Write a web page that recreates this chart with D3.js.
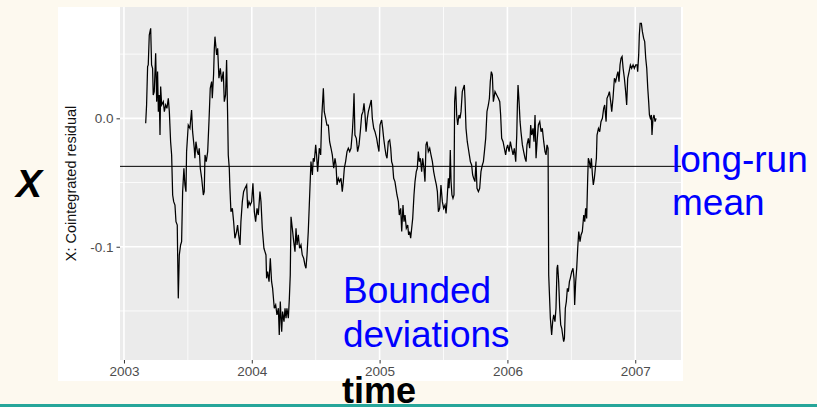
<!DOCTYPE html>
<html>
<head>
<meta charset="utf-8">
<script src="https://cdn.jsdelivr.net/npm/d3@7"></script>
<style>
  body { margin: 0; background: #fdf9ef; }
  svg { display: block; font-family: "Liberation Sans", Arial, sans-serif; }
</style>
</head>
<body>
<div class="chart"></div>
<script>
// cointegrated residual, [decimal year, value]
const residual = [
  [2003.170,-0.0039],[2003.177,0.0104],[2003.185,0.0403],[2003.190,0.0416],[2003.198,0.0649],[2003.209,0.0701],
  [2003.216,0.0416],[2003.224,0.0390],[2003.229,0.0182],[2003.237,0.0208],[2003.248,0.0506],[2003.256,0.0130],
  [2003.263,0.0364],[2003.269,0.0052],[2003.276,0.0182],[2003.282,-0.0130],[2003.287,0.0247],[2003.295,0.0104],
  [2003.308,0.0130],[2003.316,0.0052],[2003.326,0.0104],[2003.336,0.0078],[2003.347,0.0156],[2003.355,0.0052],
  [2003.365,-0.0182],[2003.373,-0.0285],[2003.381,-0.0597],[2003.389,-0.0649],[2003.399,-0.0675],[2003.407,-0.0805],
  [2003.417,-0.0831],[2003.420,-0.1064],[2003.425,-0.1402],[2003.433,-0.1064],[2003.443,-0.0986],[2003.451,-0.0960],
  [2003.459,-0.0571],[2003.469,-0.0389],[2003.477,-0.0519],[2003.485,-0.0571],[2003.490,-0.0259],[2003.503,-0.0052],
  [2003.516,-0.0078],[2003.529,0.0065],[2003.537,-0.0104],[2003.550,-0.0233],[2003.555,-0.0311],[2003.563,-0.0182],
  [2003.574,-0.0259],[2003.582,-0.0285],[2003.589,-0.0233],[2003.597,-0.0389],[2003.608,-0.0467],[2003.621,-0.0597],
  [2003.628,-0.0571],[2003.634,-0.0285],[2003.644,-0.0337],[2003.655,-0.0259],[2003.665,-0.0026],[2003.675,0.0234],
  [2003.686,0.0286],[2003.691,0.0156],[2003.701,0.0338],[2003.707,0.0545],[2003.712,0.0636],[2003.725,0.0493],
  [2003.733,0.0545],[2003.743,0.0312],[2003.754,0.0390],[2003.764,0.0286],[2003.777,0.0364],[2003.785,0.0130],
  [2003.795,0.0182],[2003.803,0.0455],[2003.811,0.0026],[2003.816,-0.0285],[2003.824,-0.0389],[2003.829,-0.0545],
  [2003.837,-0.0727],[2003.848,-0.0701],[2003.858,-0.0805],[2003.868,-0.0934],[2003.881,-0.0882],[2003.889,-0.0831],
  [2003.897,-0.0908],[2003.908,-0.0986],[2003.915,-0.0805],[2003.926,-0.0649],[2003.936,-0.0571],[2003.947,-0.0545],
  [2003.960,-0.0519],[2003.968,-0.0701],[2003.978,-0.0649],[2003.988,-0.0675],[2003.999,-0.0649],[2004.009,-0.0506],
  [2004.020,-0.0727],[2004.030,-0.0805],[2004.041,-0.0701],[2004.051,-0.0753],[2004.064,-0.0571],[2004.072,-0.0649],
  [2004.082,-0.0856],[2004.095,-0.1012],[2004.103,-0.1038],[2004.111,-0.1064],[2004.116,-0.1246],[2004.124,-0.1194],
  [2004.135,-0.1272],[2004.145,-0.1090],[2004.155,-0.1272],[2004.163,-0.1324],[2004.176,-0.1479],[2004.187,-0.1453],
  [2004.197,-0.1531],[2004.208,-0.1479],[2004.215,-0.1687],[2004.223,-0.1427],[2004.234,-0.1661],[2004.241,-0.1505],
  [2004.252,-0.1583],[2004.260,-0.1479],[2004.268,-0.1557],[2004.275,-0.1479],[2004.286,-0.1557],[2004.294,-0.1402],
  [2004.301,-0.1220],[2004.307,-0.0766],[2004.317,-0.0856],[2004.328,-0.0960],[2004.338,-0.1038],[2004.346,-0.0856],
  [2004.354,-0.0986],[2004.364,-0.0908],[2004.374,-0.1012],[2004.385,-0.0986],[2004.395,-0.1064],[2004.406,-0.1090],
  [2004.416,-0.1142],[2004.424,-0.1168],[2004.432,-0.1064],[2004.442,-0.0882],[2004.450,-0.0675],[2004.458,-0.0467],
  [2004.463,-0.0337],[2004.474,-0.0441],[2004.481,-0.0311],[2004.489,-0.0337],[2004.500,-0.0207],[2004.507,-0.0285],
  [2004.515,-0.0415],[2004.521,-0.0337],[2004.528,-0.0233],[2004.539,-0.0285],[2004.547,0.0000],[2004.560,0.0234],
  [2004.567,0.0052],[2004.578,0.0000],[2004.588,-0.0052],[2004.599,-0.0052],[2004.609,-0.0182],[2004.620,-0.0233],
  [2004.630,-0.0285],[2004.641,-0.0389],[2004.651,-0.0311],[2004.659,-0.0363],[2004.667,-0.0519],[2004.677,-0.0467],
  [2004.687,-0.0493],[2004.698,-0.0467],[2004.708,-0.0571],[2004.716,-0.0493],[2004.724,-0.0389],[2004.734,-0.0337],
  [2004.745,-0.0259],[2004.755,-0.0233],[2004.766,-0.0259],[2004.776,-0.0233],[2004.787,-0.0104],[2004.794,0.0026],
  [2004.800,0.0195],[2004.807,-0.0130],[2004.818,-0.0156],[2004.828,-0.0259],[2004.839,-0.0207],[2004.849,-0.0104],
  [2004.860,0.0026],[2004.870,0.0052],[2004.878,0.0117],[2004.886,0.0026],[2004.894,-0.0104],[2004.904,0.0000],
  [2004.912,0.0052],[2004.925,0.0104],[2004.935,0.0143],[2004.943,0.0000],[2004.954,-0.0078],[2004.964,-0.0104],
  [2004.977,-0.0156],[2004.985,-0.0207],[2004.995,-0.0259],[2005.003,-0.0052],[2005.011,-0.0026],[2005.016,-0.0013],
  [2005.024,-0.0078],[2005.032,-0.0156],[2005.042,-0.0233],[2005.050,-0.0285],[2005.058,-0.0311],[2005.068,-0.0182],
  [2005.079,-0.0169],[2005.087,-0.0233],[2005.094,-0.0337],[2005.102,-0.0363],[2005.110,-0.0467],[2005.120,-0.0493],
  [2005.128,-0.0545],[2005.136,-0.0597],[2005.147,-0.0649],[2005.154,-0.0753],[2005.165,-0.0701],[2005.173,-0.0882],
  [2005.183,-0.0675],[2005.191,-0.0805],[2005.199,-0.0753],[2005.209,-0.0856],[2005.220,-0.0831],[2005.227,-0.0908],
  [2005.235,-0.0882],[2005.243,-0.0934],[2005.251,-0.0856],[2005.259,-0.0779],[2005.269,-0.0597],[2005.277,-0.0493],
  [2005.287,-0.0415],[2005.295,-0.0389],[2005.303,-0.0259],[2005.311,-0.0337],[2005.319,-0.0311],[2005.329,-0.0415],
  [2005.337,-0.0311],[2005.347,-0.0389],[2005.355,-0.0493],[2005.363,-0.0207],[2005.371,-0.0182],[2005.381,-0.0259],
  [2005.392,-0.0233],[2005.402,-0.0285],[2005.413,-0.0337],[2005.423,-0.0415],[2005.433,-0.0467],[2005.444,-0.0519],
  [2005.452,-0.0571],[2005.460,-0.0727],[2005.470,-0.0701],[2005.480,-0.0519],[2005.491,-0.0649],[2005.501,-0.0701],
  [2005.512,-0.0675],[2005.520,-0.0740],[2005.527,-0.0649],[2005.533,-0.0545],[2005.538,-0.0467],[2005.543,-0.0545],
  [2005.548,-0.0467],[2005.553,-0.0246],[2005.559,-0.0493],[2005.566,-0.0597],[2005.574,-0.0623],[2005.582,-0.0597],
  [2005.587,0.0130],[2005.595,0.0247],[2005.603,0.0026],[2005.611,-0.0052],[2005.621,0.0026],[2005.629,0.0000],
  [2005.637,0.0052],[2005.647,0.0208],[2005.655,0.0234],[2005.663,0.0260],[2005.668,0.0156],[2005.676,-0.0078],
  [2005.686,-0.0182],[2005.694,-0.0233],[2005.702,-0.0285],[2005.710,-0.0337],[2005.720,-0.0363],[2005.728,-0.0441],
  [2005.736,-0.0467],[2005.746,-0.0493],[2005.754,-0.0337],[2005.762,-0.0545],[2005.773,-0.0571],[2005.783,-0.0545],
  [2005.793,-0.0415],[2005.804,-0.0363],[2005.812,-0.0337],[2005.820,-0.0259],[2005.830,-0.0156],[2005.840,0.0052],
  [2005.851,0.0104],[2005.859,0.0156],[2005.866,0.0286],[2005.874,0.0364],[2005.882,0.0338],[2005.890,0.0130],
  [2005.903,0.0208],[2005.916,0.0182],[2005.929,0.0156],[2005.940,0.0130],[2005.947,0.0026],[2005.955,-0.0156],
  [2005.966,-0.0182],[2005.976,-0.0233],[2005.986,-0.0285],[2005.994,-0.0233],[2006.002,-0.0207],[2006.013,-0.0259],
  [2006.023,-0.0182],[2006.033,-0.0233],[2006.044,-0.0285],[2006.054,-0.0233],[2006.065,-0.0337],[2006.073,-0.0130],
  [2006.078,0.0104],[2006.083,0.0260],[2006.091,0.0130],[2006.099,-0.0026],[2006.106,-0.0104],[2006.117,-0.0207],
  [2006.127,-0.0259],[2006.138,-0.0311],[2006.146,-0.0337],[2006.153,-0.0207],[2006.164,-0.0156],[2006.174,-0.0233],
  [2006.182,-0.0052],[2006.190,-0.0130],[2006.200,-0.0078],[2006.208,-0.0182],[2006.216,0.0026],[2006.224,-0.0311],
  [2006.232,-0.0182],[2006.242,-0.0052],[2006.253,-0.0026],[2006.263,-0.0104],[2006.273,-0.0078],[2006.284,-0.0182],
  [2006.294,-0.0259],[2006.302,-0.0285],[2006.310,-0.0207],[2006.318,-0.0233],[2006.323,-0.1220],[2006.328,-0.1350],
  [2006.336,-0.1557],[2006.346,-0.1687],[2006.354,-0.1583],[2006.362,-0.1531],[2006.372,-0.1583],[2006.380,-0.1479],
  [2006.388,-0.1168],[2006.393,-0.1142],[2006.401,-0.1272],[2006.409,-0.1479],[2006.417,-0.1609],[2006.425,-0.1635],
  [2006.432,-0.1687],[2006.440,-0.1739],[2006.446,-0.1713],[2006.453,-0.1479],[2006.461,-0.1427],[2006.469,-0.1324],
  [2006.477,-0.1350],[2006.485,-0.1272],[2006.492,-0.1246],[2006.503,-0.1194],[2006.513,-0.1168],[2006.521,-0.1246],
  [2006.526,-0.1453],[2006.534,-0.1272],[2006.542,-0.1168],[2006.550,-0.1012],[2006.558,-0.0882],[2006.568,-0.0960],
  [2006.576,-0.0908],[2006.586,-0.0882],[2006.597,-0.0753],[2006.605,-0.0805],[2006.612,-0.0701],[2006.620,-0.0779],
  [2006.628,-0.0467],[2006.633,-0.0311],[2006.641,-0.0337],[2006.649,-0.0389],[2006.657,-0.0311],[2006.665,-0.0441],
  [2006.672,-0.0519],[2006.680,-0.0467],[2006.688,-0.0389],[2006.696,-0.0311],[2006.701,-0.0130],[2006.712,-0.0078],
  [2006.722,-0.0104],[2006.732,-0.0026],[2006.743,0.0000],[2006.753,0.0078],[2006.761,0.0104],[2006.772,-0.0026],
  [2006.779,0.0156],[2006.790,0.0182],[2006.798,0.0208],[2006.808,0.0130],[2006.816,0.0052],[2006.826,0.0156],
  [2006.837,0.0312],[2006.847,0.0286],[2006.858,0.0338],[2006.865,0.0364],[2006.873,0.0286],[2006.881,0.0416],
  [2006.889,0.0468],[2006.897,0.0481],[2006.905,0.0390],[2006.915,0.0312],[2006.925,0.0208],[2006.933,0.0104],
  [2006.941,0.0312],[2006.952,0.0364],[2006.962,0.0416],[2006.972,0.0390],[2006.983,0.0416],[2006.993,0.0390],
  [2007.004,0.0416],[2007.014,0.0416],[2007.019,0.0364],[2007.027,0.0494],[2007.032,0.0649],[2007.038,0.0740],
  [2007.048,0.0740],[2007.056,0.0675],[2007.066,0.0623],[2007.074,0.0597],[2007.082,0.0468],[2007.090,0.0390],
  [2007.098,0.0234],[2007.105,0.0130],[2007.111,0.0026],[2007.118,0.0000],[2007.126,0.0026],[2007.131,-0.0130],
  [2007.139,0.0000],[2007.147,0.0026],[2007.155,-0.0026],[2007.163,0.0000]
];
const longRunMean = -0.0374;

const xTicks = [2003, 2004, 2005, 2006, 2007];
const xMinor = [2003.5, 2004.5, 2005.5, 2006.5];
const yTicks = [0, -0.1];
const yTickLabels = ["0.0", "-0.1"];
const yMinor = [0.05, -0.05, -0.15];
const xDomain = [2002.969, 2007.358];
const yDomain = [-0.1882, 0.0867];

const W = 817, H = 407;
const panel = {left: 120, right: 681, top: 7, bottom: 360};

const svg = d3.select('.chart').append('svg')
    .attr('width', W)
    .attr('height', H);

// slide background and white plot card
svg.append('rect').attr('width', W).attr('height', H).attr('fill', '#fdf9ef');
svg.append('rect')
    .attr('x', 58).attr('y', 7)
    .attr('width', 625).attr('height', 374)
    .attr('fill', '#ffffff');

const xScale = d3.scaleLinear().domain(xDomain).range([panel.left, panel.right]);
const yScale = d3.scaleLinear().domain(yDomain).range([panel.bottom, panel.top]);

svg.append('rect')
    .attr('x', panel.left).attr('y', panel.top)
    .attr('width', panel.right - panel.left)
    .attr('height', panel.bottom - panel.top)
    .attr('fill', '#ebebeb');

// grid
const grid = svg.append('g');
grid.selectAll('.xminor').data(xMinor).enter().append('line')
    .attr('x1', d => xScale(d)).attr('x2', d => xScale(d))
    .attr('y1', panel.top).attr('y2', panel.bottom)
    .attr('stroke', '#fff').attr('stroke-width', 0.8);
grid.selectAll('.yminor').data(yMinor).enter().append('line')
    .attr('x1', panel.left).attr('x2', panel.right)
    .attr('y1', d => yScale(d)).attr('y2', d => yScale(d))
    .attr('stroke', '#fff').attr('stroke-width', 0.8);
grid.selectAll('.xmajor').data(xTicks).enter().append('line')
    .attr('x1', d => xScale(d)).attr('x2', d => xScale(d))
    .attr('y1', panel.top).attr('y2', panel.bottom)
    .attr('stroke', '#fff').attr('stroke-width', 1.6);
grid.selectAll('.ymajor').data(yTicks).enter().append('line')
    .attr('x1', panel.left).attr('x2', panel.right)
    .attr('y1', d => yScale(d)).attr('y2', d => yScale(d))
    .attr('stroke', '#fff').attr('stroke-width', 1.6);

// series
const line = d3.line()
    .x(d => xScale(d[0]))
    .y(d => yScale(d[1]));

svg.append('path')
    .datum(residual)
    .attr('fill', 'none')
    .attr('stroke', '#000')
    .attr('stroke-width', 1.25)
    .attr('d', line);

svg.append('line')
    .attr('x1', panel.left).attr('x2', panel.right)
    .attr('y1', yScale(longRunMean)).attr('y2', yScale(longRunMean))
    .attr('stroke', '#000').attr('stroke-width', 1);

// axes
const xAxis = d3.axisBottom(xScale)
    .tickValues(xTicks)
    .tickFormat(d3.format('d'))
    .tickSizeInner(3.5).tickSizeOuter(0).tickPadding(3);
const yAxis = d3.axisLeft(yScale)
    .tickValues(yTicks)
    .tickFormat((d, i) => yTickLabels[i])
    .tickSizeInner(3.5).tickSizeOuter(0).tickPadding(3);

const gx = svg.append('g')
    .attr('transform', `translate(0, ${panel.bottom})`)
    .call(xAxis);
const gy = svg.append('g')
    .attr('transform', `translate(${panel.left}, 0)`)
    .call(yAxis);

[gx, gy].forEach(g => {
    g.select('.domain').remove();
    g.selectAll('.tick line').attr('stroke', '#333').attr('stroke-width', 1);
    g.selectAll('.tick text')
        .attr('fill', '#4d4d4d')
        .attr('font-size', 13.5)
        .attr('font-family', '"Liberation Sans", Arial, sans-serif');
});

svg.append('text')
    .attr('transform', 'translate(76, 183.5) rotate(-90)')
    .attr('text-anchor', 'middle')
    .attr('font-size', 14.5)
    .attr('fill', '#111')
    .text('X: Cointegrated residual');

// slide annotations
svg.append('text')
    .attr('x', 16).attr('y', 197)
    .attr('font-size', 39)
    .attr('font-weight', 'bold')
    .attr('font-style', 'italic')
    .attr('fill', '#000')
    .text('X');

svg.append('text')
    .attr('x', 342).attr('y', 403)
    .attr('font-size', 36)
    .attr('font-weight', 'bold')
    .attr('fill', '#000')
    .text('time');

const blue = '#0000ff';
svg.append('text')
    .attr('x', 672).attr('y', 171.5)
    .attr('font-size', 37).attr('fill', blue)
    .text('long-run');
svg.append('text')
    .attr('x', 672).attr('y', 215)
    .attr('font-size', 37).attr('fill', blue)
    .text('mean');
svg.append('text')
    .attr('x', 343).attr('y', 303)
    .attr('font-size', 37).attr('fill', blue)
    .text('Bounded');
svg.append('text')
    .attr('x', 343).attr('y', 347)
    .attr('font-size', 37).attr('fill', blue)
    .text('deviations');

// teal footer rule, drawn last so it clips the bottom of "time"
svg.append('rect')
    .attr('x', 0).attr('y', 404)
    .attr('width', W).attr('height', 3)
    .attr('fill', '#27a69a');
</script>
</body>
</html>
